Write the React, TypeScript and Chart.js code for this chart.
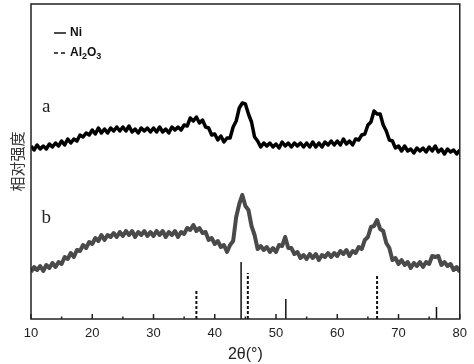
import React, { useEffect, useRef } from "react";
import { Chart, registerables } from "chart.js";

Chart.register(...registerables);

// 2θ grid (degrees), 0.5° step from 10 to 80
const twoTheta: number[] = Array.from({ length: 141 }, (_, i) => 10 + i * 0.5);

// curve a (black), relative intensity
const curveA: number[] = [
  173, 169, 174, 170, 173, 170, 175, 172, 176, 173,
  178, 174, 180, 176, 180, 178, 184, 182, 186, 184,
  189, 185, 191, 186, 190, 186, 191, 188, 192, 188,
  192, 188, 193, 187, 190, 186, 191, 188, 191, 187,
  191, 187, 192, 187, 190, 186, 192, 189, 192, 189,
  194, 193, 201, 198, 202, 196, 199, 192, 191, 184,
  185, 179, 183, 177, 181, 181, 192, 198, 211, 216,
  215, 205, 197, 182, 178, 172, 176, 173, 176, 172,
  175, 171, 177, 173, 176, 172, 176, 173, 176, 172,
  176, 172, 177, 172, 176, 172, 177, 174, 178, 174,
  178, 174, 180, 175, 178, 174, 180, 179, 184, 185,
  194, 197, 208, 205, 205, 194, 188, 179, 178, 171,
  173, 168, 173, 168, 170, 166, 171, 168, 171, 167,
  172, 168, 173, 167, 170, 165, 170, 167, 169, 165,
  169,
];

// curve b (grey), relative intensity
const curveB: number[] = [
  47, 52, 49, 53, 48, 54, 51, 56, 52, 57,
  55, 62, 60, 66, 62, 69, 68, 74, 71, 77,
  75, 81, 78, 84, 79, 84, 82, 86, 82, 87,
  83, 88, 84, 88, 82, 87, 84, 88, 83, 87,
  83, 88, 84, 88, 82, 87, 84, 88, 82, 87,
  85, 91, 89, 94, 88, 91, 86, 87, 79, 81,
  75, 78, 72, 74, 67, 74, 78, 102, 115, 124,
  113, 109, 93, 84, 70, 73, 69, 72, 67, 71,
  67, 74, 73, 82, 71, 71, 65, 67, 61, 64,
  60, 65, 61, 65, 59, 64, 62, 66, 62, 66,
  63, 68, 65, 69, 63, 68, 66, 72, 70, 79,
  82, 92, 93, 99, 90, 88, 76, 71, 59, 61,
  55, 59, 54, 57, 51, 56, 53, 57, 52, 57,
  55, 63, 62, 63, 54, 57, 53, 55, 49, 52,
  47,
];

// reference (standard card) lines
const niPeaks: number[] = [44.3, 51.6, 76.2];
const niHeights: number[] = [57, 20, 12];
const al2o3Peaks: number[] = [37.0, 45.4, 66.5];
const al2o3Heights: number[] = [28, 46, 44];

const xMajorTicks: number[] = [10, 20, 30, 40, 50, 60, 70, 80];
const xMinorTicks: number[] = [15, 25, 35, 45, 55, 65, 75];

const curveNames: string[] = ["a", "b"];
const curveNameAt: { x: number; y: number }[] = [
  { x: 12.5, y: 212 },
  { x: 12.5, y: 101 },
];

const decorPlugin = {
  id: "decor",
  afterDatasetsDraw(chart: any) {
    const { ctx, chartArea } = chart;
    const { left, right, top, bottom } = chartArea;
    const xs = chart.scales.x;
    const ys = chart.scales.y;
    ctx.save();
    // frame
    ctx.strokeStyle = "#222";
    ctx.lineWidth = 1.5;
    ctx.setLineDash([]);
    ctx.strokeRect(left, top, right - left, bottom - top);
    // inward ticks
    ctx.lineWidth = 1.5;
    xMajorTicks.forEach((t) => {
      const px = xs.getPixelForValue(t);
      ctx.beginPath();
      ctx.moveTo(px, bottom);
      ctx.lineTo(px, bottom - 5);
      ctx.stroke();
    });
    xMinorTicks.forEach((t) => {
      const px = xs.getPixelForValue(t);
      ctx.beginPath();
      ctx.moveTo(px, bottom);
      ctx.lineTo(px, bottom - 2.5);
      ctx.stroke();
    });
    // legend
    const lx = left + 23;
    const ly1 = top + 29;
    const ly2 = top + 49;
    ctx.strokeStyle = "#111";
    ctx.lineWidth = 1.5;
    ctx.beginPath();
    ctx.moveTo(lx, ly1);
    ctx.lineTo(lx + 12, ly1);
    ctx.stroke();
    ctx.setLineDash([4, 3]);
    ctx.beginPath();
    ctx.moveTo(lx, ly2);
    ctx.lineTo(lx + 12, ly2);
    ctx.stroke();
    ctx.setLineDash([]);
    ctx.fillStyle = "#111";
    ctx.textBaseline = "middle";
    ctx.textAlign = "left";
    ctx.font = "bold 12px 'Liberation Sans', Arial, sans-serif";
    ctx.fillText("Ni", lx + 16, ly1);
    let tx = lx + 16;
    ctx.fillText("Al", tx, ly2);
    tx += ctx.measureText("Al").width;
    ctx.font = "bold 9px 'Liberation Sans', Arial, sans-serif";
    ctx.fillText("2", tx, ly2 + 4);
    tx += ctx.measureText("2").width;
    ctx.font = "bold 12px 'Liberation Sans', Arial, sans-serif";
    ctx.fillText("O", tx, ly2);
    tx += ctx.measureText("O").width;
    ctx.font = "bold 9px 'Liberation Sans', Arial, sans-serif";
    ctx.fillText("3", tx, ly2 + 4);
    // curve names
    ctx.font = "19px 'Liberation Serif', 'Times New Roman', serif";
    ctx.fillStyle = "#222";
    ctx.textAlign = "center";
    curveNames.forEach((n, i) => {
      ctx.fillText(n, xs.getPixelForValue(curveNameAt[i].x), ys.getPixelForValue(curveNameAt[i].y));
    });
    ctx.restore();
  },
};

export default function App() {
  const ref = useRef<HTMLCanvasElement | null>(null);
  useEffect(() => {
    if (!ref.current) return;
    const stickSets: any[] = [];
    niPeaks.forEach((p, i) => {
      stickSets.push({
        data: [
          { x: p, y: 0 },
          { x: p, y: niHeights[i] },
        ],
        borderColor: "#111",
        borderWidth: 1.5,
        pointRadius: 0,
      });
    });
    al2o3Peaks.forEach((p, i) => {
      stickSets.push({
        data: [
          { x: p, y: 0 },
          { x: p, y: al2o3Heights[i] },
        ],
        borderColor: "#111",
        borderWidth: 2,
        borderDash: [3, 2],
        pointRadius: 0,
      });
    });
    const chart = new Chart(ref.current, {
      type: "line",
      data: {
        datasets: [
          {
            data: twoTheta.map((x, i) => ({ x, y: curveA[i] })),
            borderColor: "#000",
            borderWidth: 3.5,
            borderJoinStyle: "round",
            pointRadius: 0,
            tension: 0,
          },
          {
            data: twoTheta.map((x, i) => ({ x, y: curveB[i] })),
            borderColor: "#4a4a4a",
            borderWidth: 4,
            borderJoinStyle: "round",
            pointRadius: 0,
            tension: 0,
          },
          ...stickSets,
        ],
      },
      options: {
        responsive: false,
        animation: false,
        events: [],
        layout: { padding: { top: 4, right: 14, left: 0, bottom: 0 } },
        plugins: { legend: { display: false }, tooltip: { enabled: false } },
        scales: {
          x: {
            type: "linear",
            min: 10,
            max: 80,
            afterFit: (s: any) => {
              s.height = 45;
            },
            grid: { display: false, drawTicks: false },
            border: { display: false },
            ticks: {
              stepSize: 10,
              padding: 7,
              color: "#222",
              font: { family: "'Liberation Sans', Arial, sans-serif", size: 13 },
            },
            title: {
              display: true,
              text: "2θ(°)",
              color: "#222",
              padding: { top: 0, bottom: 0 },
              font: { family: "'Liberation Sans', Arial, sans-serif", size: 16 },
            },
          },
          y: {
            type: "linear",
            min: 0,
            max: 315,
            afterFit: (s: any) => {
              s.width = 31;
            },
            grid: { display: false, drawTicks: false },
            border: { display: false },
            ticks: { display: false },
            title: {
              display: true,
              text: "相对强度",
              color: "#333",
              padding: { top: 8, bottom: 0 },
              font: { family: "'Noto Sans CJK SC', sans-serif", size: 15 },
            },
          },
        },
      },
      plugins: [decorPlugin],
    });
    return () => chart.destroy();
  }, []);
  return (
    <canvas
      ref={ref}
      width={474}
      height={364}
      style={{ position: "fixed", left: 0, top: 0, width: 474, height: 364 }}
    />
  );
}
